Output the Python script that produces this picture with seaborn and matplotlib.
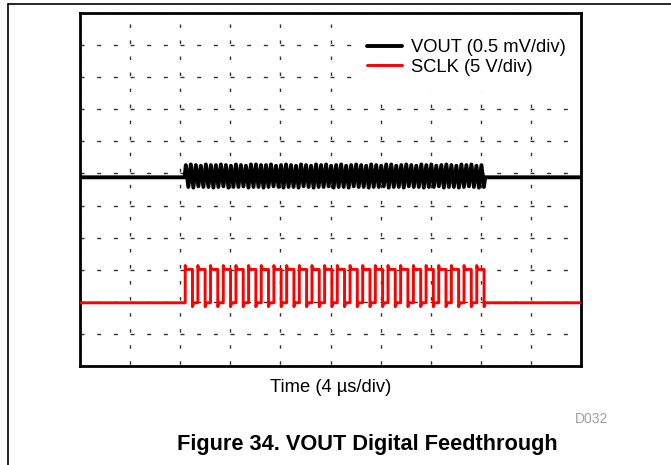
import numpy as np
import pandas as pd
import matplotlib
matplotlib.use("Agg")
import matplotlib.pyplot as plt
from matplotlib.lines import Line2D
from matplotlib.patches import Rectangle
import seaborn as sns

# ---- scope settings ----
time_per_div_us = 4.0
n_xdiv = 10
n_ydiv = 11
sclk_volts_per_div = 5.0
vout_mv_per_div = 0.5
sclk_ground_div = 1.97
vout_ground_div = 5.88

# ---- SCLK burst (24 clock pulses) ----
sclk_rise_us = [8.40, 9.41, 10.42, 11.44, 12.45, 13.46, 14.47, 15.48,
                16.50, 17.51, 18.52, 19.53, 20.54, 21.56, 22.57, 23.58,
                24.59, 25.60, 26.62, 27.63, 28.64, 29.65, 30.66, 31.68]
sclk_high_time_us = 0.58
sclk_low_v = 0.0
sclk_high_v = 5.2
sclk_overshoot_v = 5.8
sclk_undershoot_v = -0.6

# ---- VOUT feedthrough ringing: alternating peaks / troughs (mV) ----
vout_start_us = 8.45
vout_step_us = 0.2
vout_peaks_mv = [0.19, 0.20, 0.19, 0.18, 0.20, 0.19, 0.19, 0.20, 0.19, 0.18,
                 0.20, 0.19, 0.18, 0.20, 0.20, 0.19, 0.19, 0.20, 0.18, 0.19,
                 0.20, 0.19, 0.18, 0.20, 0.19, 0.18, 0.20, 0.19, 0.20, 0.18,
                 0.19, 0.20, 0.18, 0.19, 0.20, 0.19, 0.18, 0.20, 0.19, 0.18,
                 0.20, 0.20, 0.18, 0.19, 0.20, 0.19, 0.18, 0.20, 0.19, 0.20,
                 0.18, 0.19, 0.20, 0.19, 0.18, 0.20, 0.19, 0.20, 0.18, 0.19]
vout_troughs_mv = [-0.15, -0.16, -0.14, -0.15, -0.15, -0.16, -0.15, -0.14, -0.16, -0.15,
                   -0.15, -0.14, -0.16, -0.15, -0.15, -0.16, -0.15, -0.14, -0.15, -0.16,
                   -0.15, -0.15, -0.16, -0.14, -0.15, -0.16, -0.15, -0.15, -0.14, -0.16,
                   -0.15, -0.15, -0.16, -0.14, -0.15, -0.15, -0.16, -0.15, -0.15, -0.14,
                   -0.16, -0.15, -0.15, -0.16, -0.14, -0.15, -0.15, -0.16, -0.15, -0.15,
                   -0.14, -0.16, -0.15, -0.15, -0.16, -0.15, -0.14, -0.15, -0.16, -0.15]

legend_labels = ["VOUT (0.5 mV/div)", "SCLK (5 V/div)"]
x_label = "Time (4 \u00b5s/div)"
figure_title = "Figure 34. VOUT Digital Feedthrough"
figure_code = "D032"

# ---- build traces ----
t_end = time_per_div_us * n_xdiv

sclk_t, sclk_v = [0.0], [sclk_low_v]
for tr in sclk_rise_us:
    tf = tr + sclk_high_time_us
    sclk_t += [tr, tr, tr + 0.06, tf, tf, tf + 0.10]
    sclk_v += [sclk_low_v, sclk_overshoot_v, sclk_high_v, sclk_high_v,
               sclk_undershoot_v, sclk_low_v]
sclk_t.append(t_end)
sclk_v.append(sclk_low_v)

ring = []
for hi, lo in zip(vout_peaks_mv, vout_troughs_mv):
    ring += [hi, lo]
ring_t = vout_start_us + vout_step_us * np.arange(len(ring))
vout_t = [0.0, vout_start_us - 0.1] + list(ring_t) + [ring_t[-1] + 0.1, t_end]
vout_mv = [0.0, 0.0] + ring + [0.0, 0.0]

df_vout = pd.DataFrame({"t": vout_t,
                        "div": vout_ground_div + np.array(vout_mv) / vout_mv_per_div})
df_sclk = pd.DataFrame({"t": sclk_t,
                        "div": sclk_ground_div + np.array(sclk_v) / sclk_volts_per_div})

# ---- figure ----
sns.set_style("white")
plt.rcParams["font.family"] = ["Liberation Sans", "DejaVu Sans"]
plt.rcParams["text.color"] = "black"
plt.rcParams["axes.labelcolor"] = "black"

W, H = 671, 465
fig = plt.figure(figsize=(W / 100, H / 100), dpi=100)
ax = fig.add_axes([80 / W, 1 - 366 / H, 501 / W, 353 / H])

sns.lineplot(data=df_vout, x="t", y="div", ax=ax, color="black", lw=2.8,
             estimator=None, sort=False, label=legend_labels[0], zorder=3)
sns.lineplot(data=df_sclk, x="t", y="div", ax=ax, color="#ff0000", lw=2.1,
             estimator=None, sort=False, label=legend_labels[1], zorder=3)

ax.set_xlim(0, t_end)
ax.set_ylim(0, n_ydiv)
ax.set_xticks(np.arange(0, t_end + 0.1, time_per_div_us))
ax.set_yticks(np.arange(0, n_ydiv + 1))
ax.tick_params(length=0, labelbottom=False, labelleft=False)
ax.grid(axis="y", color="#333333", lw=1.0, ls=(0, (2.9, 9.1)))
ax.grid(axis="x", color="#333333", lw=1.0, ls=(10.3, (2.5, 9.05)))
ax.set_axisbelow(True)
for sp in ax.spines.values():
    sp.set_linewidth(2.0)
    sp.set_color("black")

# blank area behind the legend
ax.add_patch(Rectangle((0.563, 0.776), 0.437, 0.204, transform=ax.transAxes,
                       facecolor="white", edgecolor="none", zorder=1))

ax.set_xlabel(x_label, fontsize=13.2, labelpad=9)
ax.set_ylabel("")

ax.legend(loc="upper left", bbox_to_anchor=(367 / W, 1 - 39 / H),
          bbox_transform=fig.transFigure, frameon=False, fontsize=13.2,
          handlelength=1.9, handletextpad=0.5, labelspacing=0.15,
          borderpad=0, borderaxespad=0)

fig.text(592 / W, 1 - 423 / H, figure_code, ha="center", va="baseline",
         fontsize=10, color="#a0a0a0")
fig.text(367 / W, 1 - 450 / H, figure_title, ha="center", va="baseline",
         fontsize=15.7, fontweight="bold")

# page frame lines
fig.add_artist(Line2D([8 / W, 1], [1 - 4 / H, 1 - 4 / H], color="black", lw=1.2,
                      transform=fig.transFigure))
fig.add_artist(Line2D([8 / W, 8 / W], [0, 1 - 4 / H], color="black", lw=1.2,
                      transform=fig.transFigure))

fig.savefig("out.png", dpi=100)
